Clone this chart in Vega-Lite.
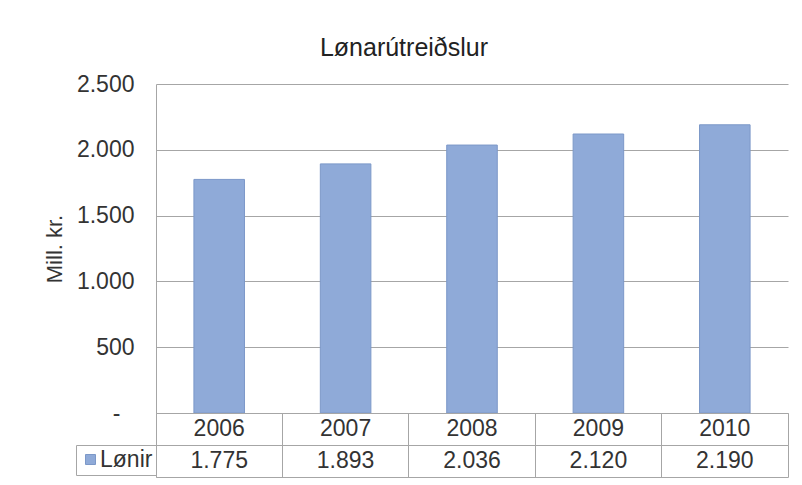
{
  "$schema": "https://vega.github.io/schema/vega-lite/v6.json",
  "padding": {"left": 43, "top": 36, "right": 8, "bottom": 5},
  "background": "white",
  "bounds": "flush",
  "spacing": 0,
  "resolve": {"scale": {"color": "independent"}, "legend": {"color": "independent"}},
  "config": {
    "locale": {"number": {"decimal": ",", "thousands": ".", "grouping": [3], "currency": ["", ""]}},
    "font": "Liberation Sans"
  },
  "title": {"text": "Lønarútreiðslur", "font": "Liberation Sans", "fontSize": 25, "fontWeight": "normal", "color": "#222", "anchor": "middle", "frame": "bounds", "offset": 12, "dx": -12},
  "data": {"values": [
    {"year": "2006", "value": 1775},
    {"year": "2007", "value": 1893},
    {"year": "2008", "value": 2036},
    {"year": "2009", "value": 2120},
    {"year": "2010", "value": 2190}
  ]},
  "vconcat": [
    {
      "width": 632, "height": 329,
      "view": {"stroke": null},
      "mark": {"type": "bar", "fill": "#8FAAD8", "stroke": "#7C98C8", "strokeWidth": 1},
      "encoding": {
        "x": {"field": "year", "type": "ordinal", "axis": null, "scale": {"paddingInner": 0.6, "paddingOuter": 0.3}},
        "y": {"field": "value", "type": "quantitative", "scale": {"domain": [0, 2500]},
          "axis": {"values": [0, 500, 1000, 1500, 2000, 2500], "title": "Mill. kr.", "format": ",d",
            "labelExpr": "datum.value == 0 ? '-' : datum.label",
            "labelPadding": {"condition": {"test": "datum.value == 0", "value": 36}, "value": 22},
            "labelFontSize": 23, "labelColor": "#333", "labelFont": "Liberation Sans",
            "ticks": false, "domainColor": "#a6a6a6", "gridColor": "#a6a6a6",
            "titleFontSize": 22, "titleFontWeight": "normal", "titleColor": "#333", "titlePadding": 10, "titleFont": "Liberation Sans"}}
      }
    },
    {
      "width": 632, "height": 32,
      "view": {"stroke": "#a6a6a6"},
      "mark": {"type": "text", "fontSize": 23, "color": "#333", "font": "Liberation Sans"},
      "encoding": {
        "x": {"field": "year", "type": "ordinal", "scale": {"type": "band", "padding": 0},
          "axis": {"grid": true, "gridColor": "#a6a6a6", "bandPosition": 0, "labels": false, "ticks": false, "domain": false, "title": null}},
        "text": {"field": "year"}
      }
    },
    {
      "width": 632, "height": 32,
      "view": {"stroke": "#a6a6a6"},
      "encoding": {
        "x": {"field": "year", "type": "ordinal", "scale": {"type": "band", "padding": 0},
          "axis": {"grid": true, "gridColor": "#a6a6a6", "bandPosition": 0, "labels": false, "ticks": false, "domain": false, "title": null}}
      },
      "layer": [
        {
          "mark": {"type": "text", "fontSize": 23, "color": "#333", "font": "Liberation Sans"},
          "encoding": {"text": {"field": "value", "type": "quantitative", "format": ",d"}}
        },
        {
          "mark": {"type": "square", "opacity": 0, "filled": true},
          "encoding": {
            "color": {"datum": "Lønir", "type": "nominal", "scale": {"range": ["#8FAAD8"]},
              "legend": {"title": null, "orient": "left", "offset": 0, "padding": 3, "strokeColor": "#a6a6a6",
                "symbolType": "square", "symbolSize": 100, "symbolOpacity": 1, "symbolStrokeColor": "#7C98C8", "symbolStrokeWidth": 1,
                "labelFontSize": 23, "labelColor": "#333", "labelOffset": -2, "labelFont": "Liberation Sans"}}
          }
        }
      ]
    }
  ]
}
